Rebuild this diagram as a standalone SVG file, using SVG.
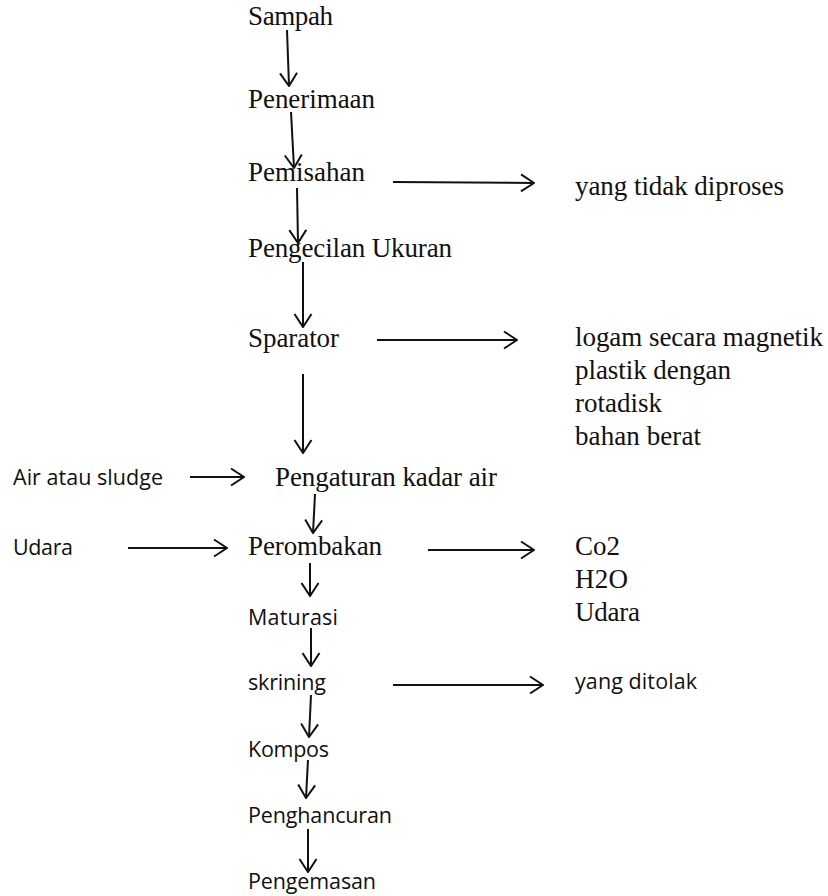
<svg xmlns="http://www.w3.org/2000/svg" width="828" height="896" viewBox="0 0 828 896">
<style>
.s{font-family:"Liberation Serif","Times New Roman",serif;font-size:27px;fill:#111}
.n{font-family:"Open Sans","Liberation Sans",sans-serif;font-size:21.5px;fill:#111}
.c line{stroke:#111;stroke-width:2;fill:none;marker-end:url(#a)}
</style>
<defs>
<marker id="a" markerUnits="userSpaceOnUse" viewBox="0 0 15 20" refX="14" refY="10" markerWidth="15" markerHeight="20" orient="auto">
<path d="M1,1.5 L14,10 L1,18.5" fill="none" stroke="#111" stroke-width="2"/>
</marker>
</defs>
<rect width="828" height="896" fill="#fff"/>
<g id="sampah"><text class="s" x="248" y="25" textLength="85">Sampah</text></g>
<g id="penerimaan"><text class="s" x="248" y="108" textLength="127">Penerimaan</text></g>
<g id="pemisahan"><text class="s" x="248" y="181" textLength="117">Pemisahan</text></g>
<g id="pengecilan"><text class="s" x="248" y="257" textLength="204">Pengecilan Ukuran</text></g>
<g id="sparator"><text class="s" x="248" y="347" textLength="91">Sparator</text></g>
<g id="pengaturan"><text class="s" x="275" y="486" textLength="222">Pengaturan kadar air</text></g>
<g id="perombakan"><text class="s" x="248" y="555" textLength="134">Perombakan</text></g>
<g id="maturasi"><text class="n" x="248" y="625" textLength="90">Maturasi</text></g>
<g id="skrining"><text class="n" x="248" y="690" textLength="78">skrining</text></g>
<g id="kompos"><text class="n" x="248" y="757" textLength="81">Kompos</text></g>
<g id="penghancuran"><text class="n" x="248" y="823" textLength="144">Penghancuran</text></g>
<g id="pengemasan"><text class="n" x="248" y="889" textLength="128">Pengemasan</text></g>
<g id="tidak-diproses"><text class="s" x="575" y="195" textLength="209">yang tidak diproses</text></g>
<g id="sparator-out">
<text class="s" x="575" y="346" textLength="248">logam secara magnetik</text>
<text class="s" x="575" y="379" textLength="156">plastik dengan</text>
<text class="s" x="575" y="412" textLength="87">rotadisk</text>
<text class="s" x="575" y="445" textLength="126">bahan berat</text>
</g>
<g id="perombakan-out">
<text class="s" x="575" y="555" textLength="45">Co2</text>
<text class="s" x="575" y="588" textLength="53">H2O</text>
<text class="s" x="575" y="621" textLength="65">Udara</text>
</g>
<g id="ditolak"><text class="n" x="575" y="689" textLength="122">yang ditolak</text></g>
<g id="air-sludge"><text class="n" x="13" y="485" textLength="150">Air atau sludge</text></g>
<g id="udara-in"><text class="n" x="13" y="555" textLength="60">Udara</text></g>
<g id="connectors" class="c">
<line x1="287" y1="30" x2="289" y2="86"/>
<line x1="291" y1="112" x2="294" y2="168"/>
<line x1="297" y1="188" x2="298" y2="243"/>
<line x1="303" y1="262" x2="303" y2="327"/>
<line x1="303" y1="374" x2="303" y2="453"/>
<line x1="315" y1="494" x2="313" y2="533"/>
<line x1="310" y1="563" x2="310" y2="596"/>
<line x1="311" y1="628" x2="311" y2="666"/>
<line x1="311" y1="695" x2="309" y2="737"/>
<line x1="308" y1="760" x2="306" y2="798"/>
<line x1="308" y1="829" x2="308" y2="872"/>
<line x1="393" y1="182" x2="534" y2="183"/>
<line x1="377" y1="340" x2="517" y2="340"/>
<line x1="428" y1="550" x2="534" y2="550"/>
<line x1="393" y1="685" x2="543" y2="685"/>
<line x1="190" y1="477" x2="244" y2="477"/>
<line x1="128" y1="548" x2="227" y2="548"/>
</g>
</svg>
